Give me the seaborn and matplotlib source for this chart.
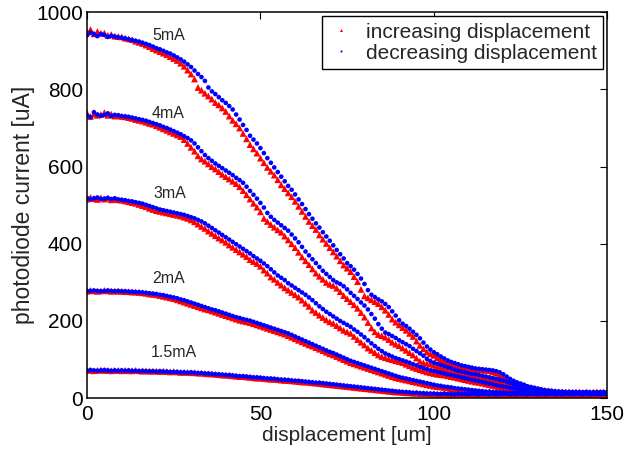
import numpy as np
import pandas as pd
import matplotlib
matplotlib.use("Agg")
import matplotlib.pyplot as plt
import seaborn as sns

# displacement steps [um], one reading per micron
displacement = np.arange(0, 151)

# photodiode current [uA]
inc_5mA = [948, 955, 944, 950, 945, 946, 940, 942, 938,
           937, 936, 933, 931, 929, 925, 922, 919, 915, 911,
           906, 902, 898, 894, 890, 885, 880, 875, 868, 860,
           850, 840, 827, 805, 798, 790, 783, 775, 766, 760,
           752, 743, 731, 720, 711, 700, 686, 672, 657, 646,
           635, 622, 610, 598, 588, 578, 566, 553, 543, 532,
           522, 510, 497, 484, 471, 458, 447, 437, 423, 412,
           401, 390, 379, 368, 356, 345, 337, 328, 315, 302,
           282, 265, 260, 255, 250, 245, 237, 228, 217, 205,
           197, 190, 183, 176, 168, 160, 148, 137, 128, 120,
           115, 111, 105, 100, 96, 93, 89, 86, 83, 81,
           80, 78, 77, 75, 74, 73, 72, 71, 68, 65,
           60, 55, 47, 44, 40, 37, 34, 31, 28, 26,
           24, 22, 21, 20, 19, 18, 17, 17, 16, 16,
           16, 15, 15, 16, 15, 14, 15, 16, 15, 14, 15, 16]
dec_5mA = [940, 947, 943, 938, 944, 941, 936, 939, 937,
           935, 934, 932, 930, 928, 926, 924, 921, 918, 915,
           911, 907, 904, 900, 896, 893, 888, 883, 878, 872,
           865, 858, 849, 840, 832, 822, 805, 795, 788, 780,
           772, 765, 757, 748, 735, 722, 708, 695, 680, 670,
           660, 648, 635, 622, 610, 598, 586, 574, 562, 550,
           540, 528, 515, 503, 490, 477, 465, 453, 442, 430,
           419, 408, 396, 384, 373, 362, 350, 342, 333, 322,
           310, 296, 280, 268, 262, 256, 251, 244, 236, 225,
           214, 202, 193, 187, 180, 172, 164, 155, 144, 134,
           126, 119, 114, 108, 103, 98, 94, 91, 88, 85,
           83, 81, 79, 77, 76, 75, 74, 73, 72, 70,
           67, 62, 56, 50, 45, 41, 38, 35, 31, 29,
           27, 25, 23, 21, 20, 19, 18, 17, 17, 16,
           16, 15, 16, 15, 15, 16, 15, 14, 15, 16, 15, 15]

inc_4mA = [738, 730, 736, 733, 735, 740, 733, 736, 731,
           732, 730, 729, 727, 725, 722, 720, 718, 715, 712,
           710, 706, 702, 698, 694, 690, 686, 682, 678, 670,
           660, 650, 640, 628, 620, 614, 607, 600, 594, 587,
           580, 574, 568, 562, 556, 548, 538, 527, 516, 505,
           495, 483, 466, 458, 450, 443, 436, 430, 420, 410,
           400, 390, 378, 366, 356, 346, 335, 324, 316, 308,
           300, 295, 292, 285, 276, 266, 258, 250, 242, 233,
           222, 210, 196, 182, 172, 165, 162, 158, 152, 145,
           140, 136, 130, 124, 118, 112, 104, 96, 92, 90,
           88, 85, 82, 79, 76, 73, 70, 68, 66, 63,
           62, 61, 59, 57, 55, 54, 52, 50, 48, 46,
           44, 42, 39, 36, 33, 30, 27, 25, 22, 20,
           19, 18, 17, 16, 16, 15, 16, 15, 14, 15,
           15, 14, 15, 16, 14, 15, 14, 15, 16, 15, 14, 15]
dec_4mA = [733, 728, 741, 735, 732, 734, 738, 731, 734,
           733, 731, 730, 729, 727, 725, 723, 721, 719, 716,
           713, 710, 707, 703, 700, 696, 692, 688, 684, 679,
           674, 668, 660, 650, 640, 630, 622, 615, 608, 602,
           596, 590, 584, 578, 571, 565, 558, 548, 537, 527,
           517, 506, 494, 480, 470, 462, 455, 448, 441, 434,
           424, 414, 404, 392, 380, 370, 360, 350, 340, 330,
           322, 314, 306, 300, 296, 290, 282, 273, 265, 257,
           248, 240, 230, 218, 206, 192, 180, 170, 166, 161,
           156, 150, 145, 140, 135, 128, 122, 116, 110, 102,
           96, 92, 89, 86, 83, 80, 77, 74, 71, 69,
           67, 65, 63, 62, 60, 58, 56, 54, 52, 50,
           48, 46, 43, 40, 37, 34, 31, 28, 25, 23,
           21, 19, 18, 17, 16, 16, 15, 16, 15, 14,
           15, 16, 15, 14, 15, 16, 15, 14, 15, 15, 16, 15]

inc_3mA = [516, 520, 517, 515, 519, 516, 518, 514, 515,
           514, 513, 511, 509, 507, 505, 502, 499, 496, 492,
           489, 486, 484, 482, 480, 478, 476, 474, 472, 469,
           466, 462, 457, 451, 445, 440, 433, 427, 421, 415,
           410, 404, 397, 391, 385, 379, 373, 367, 359, 354,
           349, 342, 332, 324, 314, 308, 300, 293, 286, 280,
           274, 268, 262, 254, 246, 238, 228, 222, 215, 209,
           203, 198, 194, 188, 182, 176, 172, 168, 160, 152,
           145, 138, 130, 124, 118, 112, 108, 105, 102, 100,
           97, 95, 92, 88, 84, 80, 77, 74, 71, 68,
           66, 64, 62, 61, 60, 58, 56, 54, 52, 50,
           48, 46, 44, 42, 41, 39, 37, 35, 33, 31,
           29, 28, 27, 25, 24, 22, 21, 19, 18, 17,
           17, 16, 15, 16, 15, 14, 15, 14, 13, 14,
           14, 13, 14, 15, 13, 14, 13, 14, 15, 13, 14, 13]
dec_3mA = [519, 515, 518, 520, 516, 517, 519, 516, 518,
           515, 514, 513, 511, 510, 508, 506, 504, 501, 498,
           495, 492, 489, 487, 485, 483, 481, 479, 477, 475,
           472, 469, 466, 462, 458, 453, 447, 441, 435, 429,
           423, 417, 411, 405, 399, 393, 387, 381, 375, 368,
           362, 356, 349, 342, 334, 326, 318, 312, 306, 298,
           292, 286, 280, 274, 268, 261, 254, 246, 238, 231,
           224, 218, 212, 206, 200, 195, 190, 185, 178, 172,
           165, 158, 150, 142, 135, 128, 122, 116, 112, 108,
           104, 101, 98, 95, 92, 88, 85, 81, 78, 75,
           72, 70, 68, 66, 64, 62, 60, 58, 56, 54,
           52, 50, 48, 46, 44, 42, 40, 38, 36, 34,
           32, 30, 29, 27, 26, 24, 23, 21, 20, 19,
           18, 17, 16, 17, 16, 15, 14, 15, 14, 15,
           15, 14, 15, 14, 15, 14, 13, 15, 14, 14, 15, 14]

inc_2mA = [277, 279, 278, 277, 278, 279, 278, 277, 278,
           277, 277, 276, 276, 275, 275, 274, 273, 272, 270,
           269, 268, 266, 264, 262, 260, 258, 255, 252, 249,
           246, 243, 240, 237, 234, 231, 229, 226, 223, 220,
           217, 214, 211, 208, 205, 202, 200, 198, 196, 193,
           190, 187, 184, 181, 178, 175, 172, 169, 166, 162,
           158, 154, 150, 146, 142, 138, 135, 131, 127, 123,
           119, 115, 112, 108, 104, 100, 96, 92, 89, 86,
           83, 80, 77, 74, 71, 68, 65, 62, 59, 56,
           53, 51, 49, 47, 45, 43, 41, 39, 37, 35,
           33, 31, 30, 29, 28, 27, 25, 24, 23, 22,
           21, 20, 19, 18, 17, 17, 16, 16, 15, 15,
           14, 14, 13, 14, 13, 13, 14, 13, 12, 13,
           13, 12, 13, 12, 12, 13, 12, 12, 13, 12,
           12, 13, 12, 12, 13, 12, 12, 13, 12, 12, 13, 12]
dec_2mA = [278, 278, 279, 278, 277, 278, 279, 278, 277,
           278, 277, 277, 276, 276, 275, 275, 274, 273, 272,
           271, 270, 268, 267, 265, 263, 261, 259, 256, 254,
           251, 248, 245, 242, 239, 236, 233, 230, 228, 225,
           222, 219, 216, 213, 210, 208, 205, 203, 201, 198,
           195, 192, 189, 186, 183, 180, 177, 174, 171, 168,
           164, 160, 156, 152, 148, 144, 140, 136, 132, 128,
           124, 120, 117, 113, 109, 105, 101, 97, 94, 91,
           88, 85, 82, 79, 76, 73, 70, 67, 64, 61,
           58, 55, 53, 51, 49, 47, 45, 43, 41, 39,
           37, 35, 33, 32, 30, 29, 28, 26, 25, 24,
           23, 22, 21, 20, 19, 18, 17, 17, 16, 16,
           15, 15, 14, 14, 14, 13, 14, 13, 13, 14,
           13, 13, 12, 13, 12, 13, 13, 12, 12, 13,
           12, 12, 13, 12, 13, 12, 12, 13, 12, 13, 12, 13]

inc_1p5mA = [73, 72, 71, 72, 73, 72, 72, 71, 72,
             72, 71, 72, 71, 71, 72, 71, 70, 71, 70,
             70, 70, 69, 70, 69, 68, 69, 68, 67, 67,
             67, 66, 66, 65, 65, 64, 63, 63, 62, 61,
             60, 60, 59, 58, 57, 56, 56, 55, 54, 53,
             52, 52, 51, 50, 49, 49, 48, 47, 46, 46,
             45, 44, 43, 42, 42, 41, 40, 39, 38, 37,
             36, 35, 34, 33, 32, 31, 30, 29, 28, 27,
             26, 25, 24, 23, 22, 21, 20, 19, 18, 17,
             16, 16, 15, 14, 14, 13, 13, 12, 12, 12,
             11, 11, 11, 10, 11, 10, 10, 11, 10, 10,
             10, 11, 10, 10, 11, 10, 10, 11, 10, 10,
             11, 10, 10, 11, 10, 10, 11, 10, 10, 11,
             10, 10, 11, 10, 10, 11, 10, 10, 11, 10,
             10, 11, 10, 10, 11, 10, 10, 11, 10, 10, 11, 10]
dec_1p5mA = [72, 73, 72, 71, 72, 73, 72, 71, 72,
             71, 72, 71, 72, 71, 71, 70, 71, 70, 70,
             70, 69, 70, 69, 69, 68, 68, 68, 67, 67,
             66, 67, 66, 65, 65, 64, 64, 63, 62, 62,
             61, 60, 60, 59, 58, 57, 57, 56, 55, 54,
             54, 53, 52, 51, 51, 50, 49, 48, 48, 47,
             46, 45, 45, 44, 43, 42, 41, 40, 40, 39,
             38, 37, 36, 35, 34, 33, 32, 31, 30, 29,
             28, 27, 26, 25, 24, 23, 22, 21, 20, 19,
             18, 17, 16, 16, 15, 14, 14, 13, 13, 12,
             12, 12, 11, 11, 12, 11, 11, 10, 11, 11,
             11, 10, 11, 11, 10, 11, 11, 10, 11, 10,
             10, 11, 11, 10, 11, 10, 11, 11, 10, 11,
             11, 10, 11, 10, 11, 11, 10, 11, 10, 11,
             11, 10, 11, 11, 10, 11, 10, 11, 11, 10, 11, 10]

drive_labels = ["5mA", "4mA", "3mA", "2mA", "1.5mA"]
inc_series = [inc_5mA, inc_4mA, inc_3mA, inc_2mA, inc_1p5mA]
dec_series = [dec_5mA, dec_4mA, dec_3mA, dec_2mA, dec_1p5mA]

INC = "increasing displacement"
DEC = "decreasing displacement"

frames = []
for direction, group in [(INC, inc_series), (DEC, dec_series)]:
    for lab, vals in zip(drive_labels, group):
        frames.append(pd.DataFrame({"displacement": displacement,
                                    "current": vals,
                                    "direction": direction,
                                    "drive": lab}))
df = pd.concat(frames, ignore_index=True)

sns.set_style("white")
plt.rcParams["font.family"] = ["Liberation Sans", "DejaVu Sans"]

fig = plt.figure(figsize=(6.26, 4.53), dpi=100)
ax = fig.add_axes([0.139, 0.121, 0.831, 0.852])

sns.scatterplot(data=df, x="displacement", y="current",
                hue="direction", style="direction", size="direction",
                palette={INC: "red", DEC: "blue"},
                markers={INC: "^", DEC: "o"},
                sizes={INC: 24, DEC: 11},
                linewidth=0, ax=ax)

ax.set_xlim(0, 150)
ax.set_ylim(0, 1000)
ax.set_xticks([0, 50, 100, 150])
ax.set_yticks(range(0, 1001, 200))
ax.tick_params(direction="in", top=True, right=True, length=5, width=0.8,
               labelsize=15, colors="black")
ax.tick_params(axis="x", pad=5)
ax.tick_params(axis="y", pad=3)
for sp in ax.spines.values():
    sp.set_color("black")
    sp.set_linewidth(1.1)
ax.set_xlabel("displacement [um]", fontsize=15, labelpad=1)
ax.set_ylabel("photodiode current [uA]", fontsize=16.5, labelpad=1)

# curve labels
label_x = [23.7, 23.4, 23.9, 23.6, 24.9]
label_y = [940, 737, 530, 310, 118]
for lab, lx, ly in zip(drive_labels, label_x, label_y):
    ax.text(lx, ly, lab, fontsize=11.5, ha="center", va="center")

handles, labels = ax.get_legend_handles_labels()
ax.legend(handles, labels, loc="upper right", fontsize=15, frameon=True,
          fancybox=False, edgecolor="black", framealpha=1,
          handletextpad=0.6, borderpad=0.3, labelspacing=0.1,
          borderaxespad=0.2, handlelength=1.2, markerscale=0.45)

plt.savefig("out.png", dpi=100)
